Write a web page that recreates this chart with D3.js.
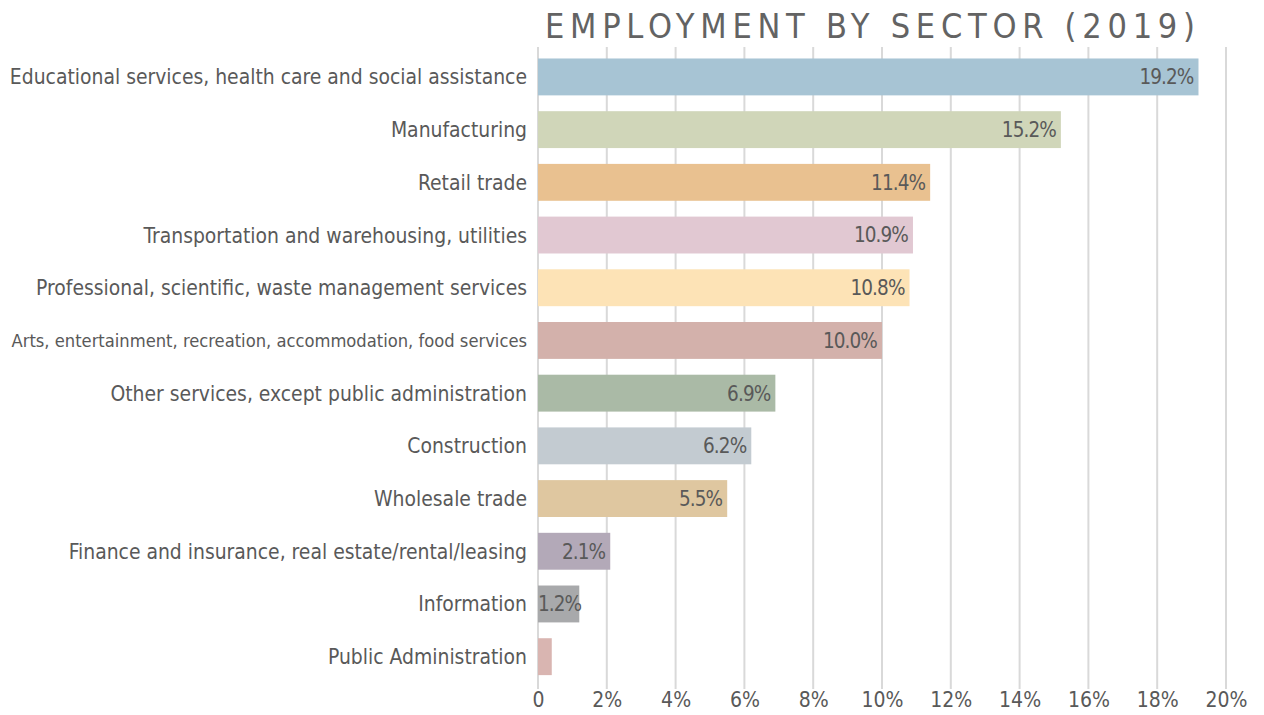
<!DOCTYPE html>
<html>
<head>
<meta charset="utf-8">
<script src="https://cdn.jsdelivr.net/npm/d3@7"></script>
<style>
  html, body { margin: 0; padding: 0; background: #ffffff; }
  svg { display: block; }
  text { font-family: "DejaVu Sans Condensed", "DejaVu Sans", sans-serif; fill: #595959; }
</style>
</head>
<body>
<svg id="chart" width="1264" height="715"></svg>
<script>
// Employment share by sector, 2019 (percent of employed workers)
const sectors = [
  "Educational services, health care and social assistance",
  "Manufacturing",
  "Retail trade",
  "Transportation and warehousing, utilities",
  "Professional, scientific, waste management services",
  "Arts, entertainment, recreation, accommodation, food services",
  "Other services, except public administration",
  "Construction",
  "Wholesale trade",
  "Finance and insurance, real estate/rental/leasing",
  "Information",
  "Public Administration"
];
const shares = [19.2, 15.2, 11.4, 10.9, 10.8, 10.0, 6.9, 6.2, 5.5, 2.1, 1.2, 0.4];
const barColors = [
  "#a7c4d4", "#d0d6b9", "#e9c190", "#e1c8d2", "#fde3b6", "#d3b1ab",
  "#aabaa6", "#c3cbd1", "#dfc7a0", "#b3a9b8", "#a8a9ab", "#d9b5b1"
];
const tickValues = [0, 2, 4, 6, 8, 10, 12, 14, 16, 18, 20];
const title = "EMPLOYMENT BY SECTOR (2019)";

const svg = d3.select("#chart");
const W = 1264;
const x = d3.scaleLinear().domain([0, 20]).range([538, W - 38]);
const y = d3.scaleBand().domain(sectors).range([51, 682.6]).paddingInner(0.3).paddingOuter(0.142);

// vertical gridlines
svg.append("g")
  .selectAll("line")
  .data(tickValues)
  .join("line")
  .attr("x1", d => x(d)).attr("x2", d => x(d))
  .attr("y1", 47).attr("y2", 689)
  .attr("stroke", "#d9d9d9")
  .attr("stroke-width", 2);

// bottom tick labels
const axis = d3.axisBottom(x)
  .tickValues(tickValues)
  .tickSize(0)
  .tickPadding(0)
  .tickFormat(d => d === 0 ? "0" : d + "%");
const gx = svg.append("g").attr("transform", "translate(0,692)").call(axis);
gx.select(".domain").remove();
gx.selectAll("text")
  .attr("font-size", 21)
  .attr("dy", "0.71em")
  .style("font-family", "\"DejaVu Sans Condensed\", \"DejaVu Sans\", sans-serif")
  .attr("fill", "#595959");

// bars
svg.append("g")
  .selectAll("rect")
  .data(sectors)
  .join("rect")
  .attr("x", x(0))
  .attr("y", d => y(d))
  .attr("width", (d, i) => x(shares[i]) - x(0))
  .attr("height", y.bandwidth())
  .attr("fill", (d, i) => barColors[i]);

// category labels
svg.append("g")
  .selectAll("text")
  .data(sectors)
  .join("text")
  .attr("x", x(0) - 11)
  .attr("y", d => y(d) + y.bandwidth() / 2)
  .attr("dy", "0.36em")
  .attr("text-anchor", "end")
  .attr("font-size", d => d.length > 56 ? 18.2 : 20.9)
  .text(d => d);

// value labels inside bar ends; short bars keep the label starting at the axis
svg.append("g")
  .selectAll("text")
  .data(sectors.filter((d, i) => shares[i] >= 1))
  .join("text")
  .attr("y", d => y(d) + y.bandwidth() / 2)
  .attr("dy", "0.36em")
  .attr("text-anchor", "end")
  .attr("font-size", 20.5)
  .attr("letter-spacing", -0.9)
  .text(d => shares[sectors.indexOf(d)].toFixed(1) + "%")
  .attr("x", function (d) {
    const w = this.getComputedTextLength();
    return Math.max(x(shares[sectors.indexOf(d)]) - 5, x(0) + w);
  });

// title, letter-spaced across the plot width
svg.append("text")
  .attr("x", 545)
  .attr("y", 38)
  .attr("font-size", 34)
  .attr("fill", "#636363")
  .style("fill", "#636363")
  .attr("textLength", 650)
  .attr("lengthAdjust", "spacing")
  .text(title);
</script>
</body>
</html>
